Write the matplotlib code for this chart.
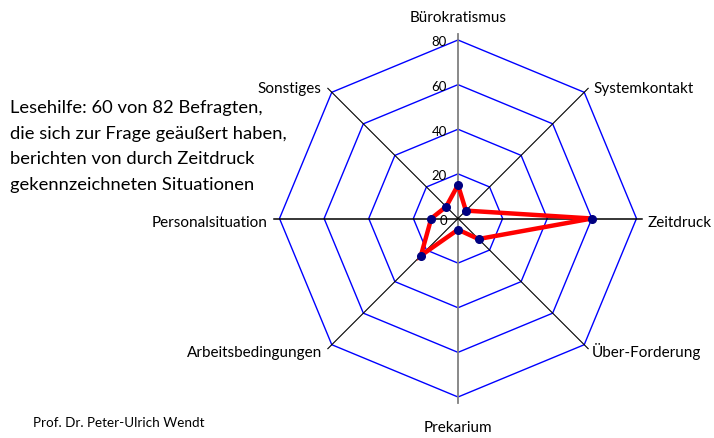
import numpy as np
import matplotlib
matplotlib.use('Agg')
import matplotlib.pyplot as plt

# data
categories = ['Bürokratismus', 'Systemkontakt', 'Zeitdruck', 'Über-Forderung',
              'Prekarium', 'Arbeitsbedingungen', 'Personalsituation', 'Sonstiges']
values = [15, 5, 60, 13, 5, 23.5, 12, 7.5]
ring_levels = [20, 40, 60, 80]
tick_values = [0, 20, 40, 60, 80]

note = ('Lesehilfe: 60 von 82 Befragten,\n'
        'die sich zur Frage geäußert haben,\n'
        'berichten von durch Zeitdruck\n'
        'gekennzeichneten Situationen')
author = 'Prof. Dr. Peter-Ulrich Wendt'

plt.rcParams['font.family'] = ['Lato', 'DejaVu Sans']

W, H = 714, 439
fig = plt.figure(figsize=(W / 100, H / 100), dpi=100)

cx, cy, R = 458, 219.5, 178.5
ax = fig.add_axes([(cx - R) / W, (H - cy - R) / H, 2 * R / W, 2 * R / H],
                  projection='polar')
ax.set_theta_zero_location('N')
ax.set_theta_direction(-1)
ax.set_ylim(0, 80)
ax.axis('off')

n = len(categories)
angles = np.arange(n) * 2 * np.pi / n
closed = np.append(angles, angles[0])

# octagon rings
for lv in ring_levels:
    ax.plot(closed, [lv] * (n + 1), color='#0000ff', lw=1.0, clip_on=False, zorder=1)

# spokes
r_end = 82.5
for i, a in enumerate(angles):
    if i % 4 == 0:
        col, lw = '#808080', 1.3
    elif i % 2 == 0:
        col, lw = 'black', 1.1
    else:
        col, lw = 'black', 0.8
    ax.plot([a, a], [0, r_end], color=col, lw=lw, clip_on=False, zorder=2)

# data
ax.plot(closed, values + values[:1], color='#ff0000', lw=3.2, clip_on=False,
        solid_joinstyle='miter', zorder=3)
ax.plot(angles, values, 'o', color='#000080', ms=5.5, clip_on=False, zorder=4)

# scale labels on the vertical axis
for v in tick_values:
    ax.annotate(str(v), xy=(0, v), xytext=(-11, -1.5), textcoords='offset pixels',
                ha='right', va='center', fontsize=9.5, color='black')

# category labels
offsets = [(0, 19, 'center'), (9, 0, 'left'), (11, -7.5, 'left'), (8, -11, 'left'),
           (0, -34, 'center'), (-10, -11, 'right'), (-12, -7.5, 'right'), (-10, 0, 'right')]
for a, lab, (dx, dy, ha) in zip(angles, categories, offsets):
    ax.annotate(lab, xy=(a, 80), xytext=(dx, dy), textcoords='offset pixels',
                ha=ha, va='baseline', fontsize=11, color='black')

fig.text(10 / W, 1 - 100 / H, note, ha='left', va='top', fontsize=13.2,
         linespacing=1.75, color='black')
fig.text(33 / W, 1 - 427 / H, author, ha='left', va='baseline', fontsize=9.7,
         color='black')

fig.savefig('out.png', dpi=100)
